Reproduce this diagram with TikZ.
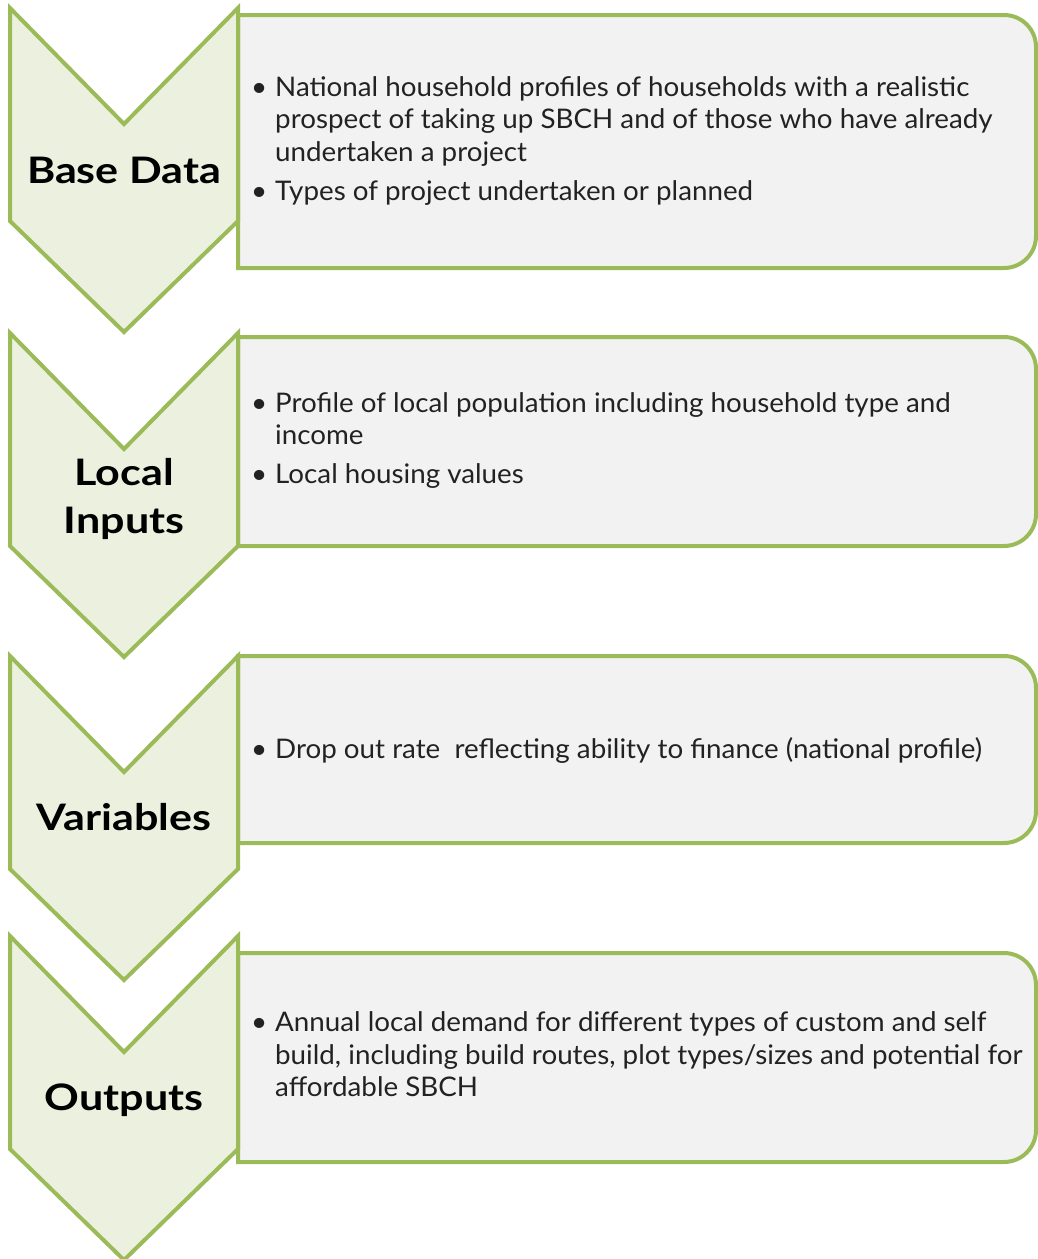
\documentclass[tikz,border=0pt]{standalone}
\usepackage{fontspec}
\setmainfont{Lato}
\newfontfamily\bodyfont[FakeStretch=1.028]{Lato}
\newfontfamily\titlefont[FakeStretch=1.18]{Lato}
\definecolor{leafgreen}{HTML}{9BBB59}
\definecolor{chevfill}{HTML}{EBF1DE}
\definecolor{panelfill}{HTML}{F2F2F2}
\definecolor{bodytext}{HTML}{222222}
\newcommand{\bulletmark}{\makebox[0pt][r]{\textbullet\hspace{8pt}}}
\begin{document}
\begin{tikzpicture}[x=1pt,y=-1pt,
  outline/.style={draw=leafgreen,line width=4pt,line join=miter},
  chevron/.style={outline,fill=chevfill},
  panel/.style={outline,fill=panelfill},
  stagetitle/.style={font=\titlefont\fontsize{36.5}{48}\selectfont\bfseries,text=black,inner sep=0pt,anchor=base,align=center},
  bodyline/.style={font=\bodyfont\fontsize{27}{33}\selectfont,text=bodytext,inner sep=0pt,anchor=base west}]
\useasboundingbox (0,0) rectangle (1038,1259);

% panels: square left corners, rounded right corners
\newcommand{\panelshape}[2]{%
  \path[panel] (238,#1) -- (1004,#1) arc[start angle=-90,end angle=0,radius=32]
    -- (1036,#2-32) arc[start angle=0,end angle=90,radius=32] -- (238,#2) -- cycle;}
% chevrons pointing downwards, top corners at #1
\newcommand{\chevronshape}[1]{%
  \path[chevron] (10,#1) -- (124,#1+116) -- (238,#1) -- (238,#1+213)
    -- (124,#1+324) -- (10,#1+213) -- cycle;}

\panelshape{15}{268}
\chevronshape{8}
\panelshape{337}{546}
\chevronshape{333}
\panelshape{656}{843}
\chevronshape{656}
\panelshape{953}{1162}
\chevronshape{936}

% stage titles
\node[stagetitle] (t1) at (124,183) {Base Data};
\node[stagetitle] (t2a) at (124,485) {Local};
\node[stagetitle] (t2b) at (124,533) {Inputs};
\node[stagetitle] (t3) at (124,830) {Variables};
\node[stagetitle] (t4) at (124,1110) {Outputs};

% base data
\node[bodyline] (b1a) at (275,96) {\bulletmark National household profiles of households with a realistic};
\node[bodyline] (b1b) at (275,128) {prospect of taking up SBCH and of those who have already};
\node[bodyline] (b1c) at (275,161) {undertaken a project};
\node[bodyline] (b1d) at (275,200) {\bulletmark Types of project undertaken or planned};

% local inputs
\node[bodyline] (b2a) at (275,412) {\bulletmark Profile of local population including household type and};
\node[bodyline] (b2b) at (275,444) {income};
\node[bodyline] (b2c) at (275,483) {\bulletmark Local housing values};

% variables
\node[bodyline] (b3a) at (275,758) {\bulletmark Drop out rate \ reflecting ability to finance (national profile)};

% outputs
\node[bodyline] (b4a) at (275,1031) {\bulletmark Annual local demand for different types of custom and self};
\node[bodyline] (b4b) at (275,1064) {build, including build routes, plot types/sizes and potential for};
\node[bodyline] (b4c) at (275,1096) {affordable SBCH};
\end{tikzpicture}
\end{document}
